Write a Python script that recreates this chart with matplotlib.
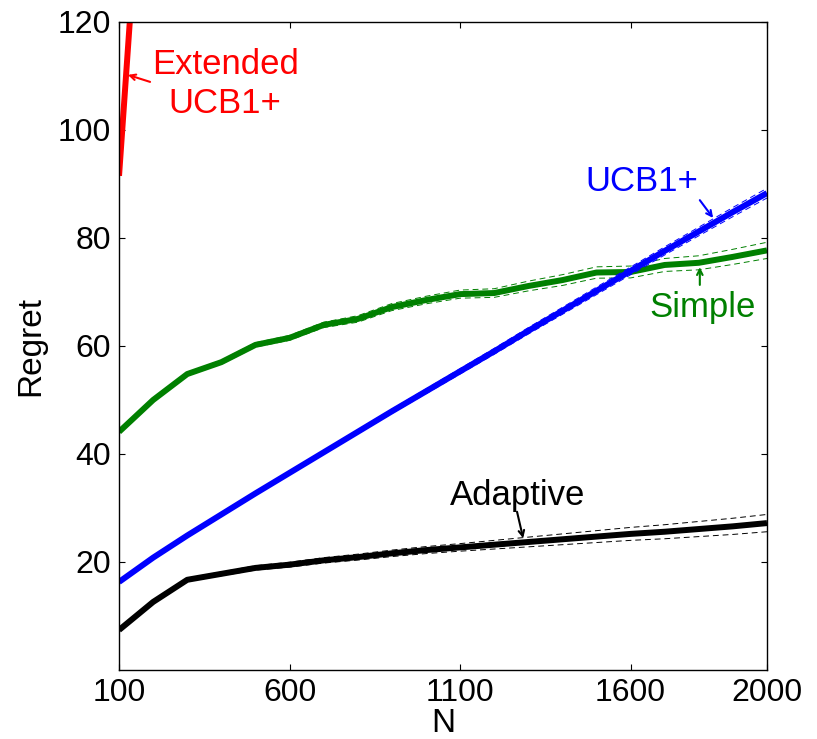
import matplotlib.pyplot as plt
import numpy as np

plt.rcParams['font.family'] = ['Liberation Sans', 'DejaVu Sans']

N = [100, 200, 300, 400, 500, 600, 700, 800, 900, 1000,
     1100, 1200, 1300, 1400, 1500, 1600, 1700, 1800, 1900, 2000]

adaptive = [7.4, 12.6, 16.7, 17.8, 18.9, 19.5, 20.3, 20.9, 21.6, 22.2,
            22.7, 23.2, 23.7, 24.2, 24.7, 25.2, 25.6, 26.1, 26.6, 27.2]
adaptive_err = [0.2, 0.25, 0.3, 0.35, 0.4, 0.45, 0.5, 0.55, 0.6, 0.65,
                0.7, 0.8, 0.9, 1.0, 1.1, 1.2, 1.3, 1.4, 1.5, 1.6]

ucb = [16.3, 20.8, 24.9, 28.8, 32.7, 36.5, 40.3, 44.1, 47.9, 51.6,
       55.3, 59.0, 62.8, 66.5, 70.2, 73.9, 77.6, 81.2, 84.8, 88.3]
ucb_err = [0.1, 0.12, 0.15, 0.18, 0.2, 0.25, 0.3, 0.35, 0.4, 0.45,
           0.5, 0.55, 0.6, 0.65, 0.7, 0.72, 0.75, 0.8, 0.85, 0.9]

simple = [44.1, 50.0, 54.8, 57.0, 60.2, 61.5, 63.9, 65.0, 67.2, 68.5,
          69.6, 69.8, 71.1, 72.2, 73.6, 73.7, 75.0, 75.4, 76.5, 77.7]
simple_err = [0.2, 0.25, 0.3, 0.35, 0.4, 0.45, 0.5, 0.6, 0.65, 0.7,
              0.75, 0.8, 0.9, 1.0, 1.05, 1.1, 1.2, 1.3, 1.4, 1.5]

ext_N = [100, 200, 300]
extended = [91.5, 182.0, 270.0]
extended_err = [0.5, 0.8, 1.0]

fig = plt.figure(figsize=(8.17, 7.39), dpi=100)
ax = fig.add_axes([0.1457, 0.0934, 0.7931, 0.8769])

series = [
    (ext_N, extended, extended_err, 'red'),
    (N, simple, simple_err, (0, 0.5, 0)),
    (N, ucb, ucb_err, 'blue'),
    (N, adaptive, adaptive_err, 'black'),
]
for x, y, e, c in series:
    y = np.array(y)
    e = np.array(e)
    ax.plot(x, y, color=c, lw=4.3, solid_capstyle='butt')
    ax.plot(x, y + e, color=c, lw=0.7, ls=(0, (6, 4)))
    ax.plot(x, y - e, color=c, lw=0.7, ls=(0, (6, 4)))

ax.set_xlim(100, 2000)
ax.set_ylim(0, 120)
ax.set_xticks([100, 600, 1100, 1600, 2000])
ax.set_yticks([20, 40, 60, 80, 100, 120])
ax.tick_params(direction='in', length=4, width=0.8, labelsize=23,
               top=True, right=True, pad=6)
for s in ax.spines.values():
    s.set_linewidth(1.0)
ax.set_xlabel('N', fontsize=24, labelpad=0)
ax.set_ylabel('Regret', fontsize=24, labelpad=8)

arrow = dict(arrowstyle='->', lw=1.5, shrinkA=0, shrinkB=0)
ax.text(411, 108.5, 'Extended\nUCB1+', color='red', fontsize=25,
        ha='center', va='center', linespacing=1.25)
ax.annotate('', xy=(126, 110.2), xytext=(191, 108.9),
            arrowprops=dict(arrow, color='red'))

ax.text(1633, 90.4, 'UCB1+', color='blue', fontsize=25, ha='center', va='center')
ax.annotate('', xy=(1842, 83.7), xytext=(1803, 87.0),
            arrowprops=dict(arrow, color='blue'))

ax.text(1812, 67.2, 'Simple', color=(0, 0.5, 0), fontsize=25, ha='center', va='center')
ax.annotate('', xy=(1803, 74.6), xytext=(1803, 71.3),
            arrowprops=dict(arrow, color=(0, 0.5, 0)))

ax.text(1270, 32.4, 'Adaptive', color='black', fontsize=25, ha='center', va='center')
ax.annotate('', xy=(1285, 24.4), xytext=(1267, 29.3),
            arrowprops=dict(arrow, color='black'))

plt.savefig('out.png', dpi=100)
